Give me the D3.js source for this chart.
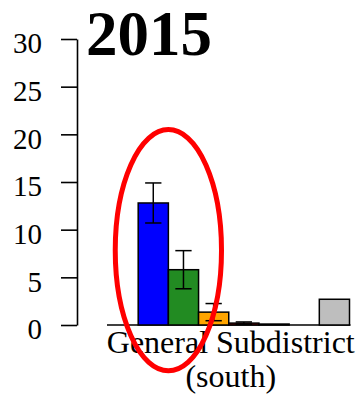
<!DOCTYPE html>
<html>
<head>
<meta charset="utf-8">
<script src="https://cdn.jsdelivr.net/npm/d3@7"></script>
<style>
  html, body { margin: 0; padding: 0; background: #fff; }
  svg { display: block; }
  text { font-family: "Liberation Serif", "Times New Roman", serif; }
</style>
</head>
<body>
<script>
// Categories within the "General Subdistrict (south)" group, one bar each
const categories = ["c1", "c2", "c3", "c4", "c5", "c6", "c7", "c8"];
const values     = [0, 12.8, 5.8, 1.35, 0.2, 0.1, 0, 2.7];
const errors     = [null, 2.1, 2.0, 0.9, 0.12, null, null, null];
const colors     = ["#ff0000", "#0000ff", "#228b22", "#ffa500", "#8b0000", "#006060", "#800080", "#bebebe"];
const yTicks     = [0, 5, 10, 15, 20, 25, 30];
const title      = "2015";
const groupLabel = ["General Subdistrict", "(south)"];

const W = 360, H = 398;
const svg = d3.select("body").append("svg").attr("width", W).attr("height", H);

const y = d3.scaleLinear().domain([0, 30]).range([325, 39]);
const x = d3.scaleBand().domain(categories).range([108, 349.5]).padding(0);

// y axis
const yAxis = d3.axisLeft(y).tickValues(yTicks).tickSize(16).tickPadding(19).tickSizeOuter(0);
const ga = svg.append("g").attr("transform", "translate(77,0)").call(yAxis);
ga.select(".domain").attr("stroke", "#000").attr("stroke-width", 1.6);
ga.selectAll(".tick line").attr("stroke", "#000").attr("stroke-width", 1.6);
ga.selectAll(".tick text")
  .attr("fill", "#000")
  .attr("font-size", 29)
  .attr("font-family", "Liberation Serif, serif")
  .attr("dy", "0.48em");

// baseline beneath the bars
svg.append("line")
  .attr("x1", x.range()[0] - 1).attr("x2", x.range()[1] + 1)
  .attr("y1", y(0)).attr("y2", y(0))
  .attr("stroke", "#000").attr("stroke-width", 1.6);

// bars
svg.append("g").selectAll("rect")
  .data(categories)
  .join("rect")
  .attr("x", d => x(d))
  .attr("width", x.bandwidth())
  .attr("y", (d, i) => y(values[i]))
  .attr("height", (d, i) => y(0) - y(values[i]))
  .attr("fill", (d, i) => colors[i])
  .attr("stroke", "#000")
  .attr("stroke-width", 1.5);

// error bars
const capW = x.bandwidth() * 0.27;
const eb = svg.append("g").attr("stroke", "#000").attr("stroke-width", 1.5);
categories.forEach((c, i) => {
  if (errors[i] == null) return;
  const cx = x(c) + x.bandwidth() / 2;
  const lo = Math.max(0, values[i] - errors[i]), hi = values[i] + errors[i];
  eb.append("line").attr("x1", cx).attr("x2", cx).attr("y1", y(hi)).attr("y2", y(lo));
  eb.append("line").attr("x1", cx - capW).attr("x2", cx + capW).attr("y1", y(hi)).attr("y2", y(hi));
  eb.append("line").attr("x1", cx - capW).attr("x2", cx + capW).attr("y1", y(lo)).attr("y2", y(lo));
});

// title
svg.append("text")
  .attr("x", 86).attr("y", 55)
  .attr("font-size", 63).attr("font-weight", "bold")
  .attr("fill", "#000")
  .text(title);

// group label
const gx = (x.range()[0] + x.range()[1]) / 2 + 2;
svg.append("text")
  .attr("x", gx).attr("y", 353)
  .attr("text-anchor", "middle").attr("font-size", 32).attr("fill", "#000")
  .text(groupLabel[0]);
svg.append("text")
  .attr("x", gx).attr("y", 387)
  .attr("text-anchor", "middle").attr("font-size", 32).attr("fill", "#000")
  .text(groupLabel[1]);

// highlight ellipse around the two leading bars
const ex = x(categories[2]);
svg.append("ellipse")
  .attr("cx", ex)
  .attr("cy", y(7.85))
  .attr("rx", x.bandwidth() * 1.76)
  .attr("ry", (y(-4.8) - y(20.5)) / 2)
  .attr("fill", "none")
  .attr("stroke", "#ff0000")
  .attr("stroke-width", 5);
</script>
</body>
</html>
